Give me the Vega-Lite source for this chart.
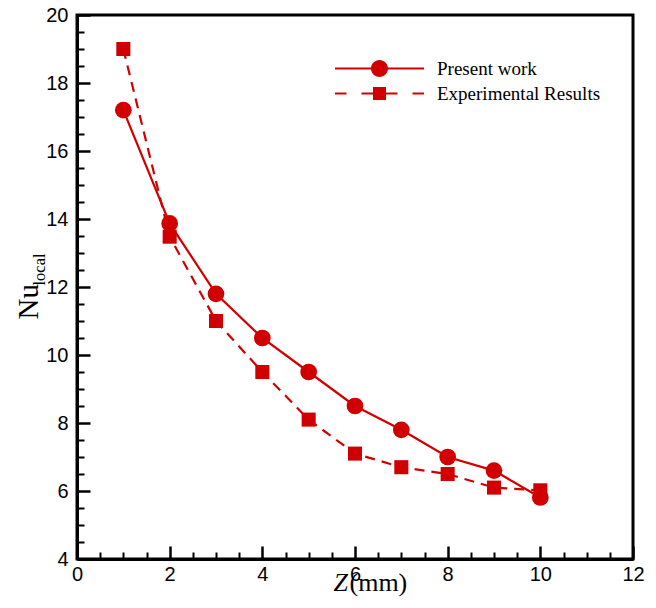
{
  "$schema": "https://vega.github.io/schema/vega-lite/v6.json",
  "width": 556,
  "height": 544,
  "autosize": {"type": "none"},
  "padding": {"left": 77, "top": 15, "right": 23, "bottom": 49},
  "background": "white",
  "config": {
    "view": {"stroke": "black", "strokeWidth": 3},
    "axis": {"grid": false, "labelFlush": false, "labelOverlap": false, "labelBound": false, "domainColor": "black", "tickColor": "black", "labelColor": "black", "titleColor": "black"}
  },
  "data": {
    "values": [
      {"z": 1, "nu": 17.2, "series": "Present work"},
      {"z": 2, "nu": 13.87, "series": "Present work"},
      {"z": 3, "nu": 11.8, "series": "Present work"},
      {"z": 4, "nu": 10.5, "series": "Present work"},
      {"z": 5, "nu": 9.5, "series": "Present work"},
      {"z": 6, "nu": 8.5, "series": "Present work"},
      {"z": 7, "nu": 7.8, "series": "Present work"},
      {"z": 8, "nu": 7.0, "series": "Present work"},
      {"z": 9, "nu": 6.6, "series": "Present work"},
      {"z": 10, "nu": 5.81, "series": "Present work"},
      {"z": 1, "nu": 19.0, "series": "Experimental Results"},
      {"z": 2, "nu": 13.48, "series": "Experimental Results"},
      {"z": 3, "nu": 11.0, "series": "Experimental Results"},
      {"z": 4, "nu": 9.5, "series": "Experimental Results"},
      {"z": 5, "nu": 8.1, "series": "Experimental Results"},
      {"z": 6, "nu": 7.1, "series": "Experimental Results"},
      {"z": 7, "nu": 6.7, "series": "Experimental Results"},
      {"z": 8, "nu": 6.5, "series": "Experimental Results"},
      {"z": 9, "nu": 6.1, "series": "Experimental Results"},
      {"z": 10, "nu": 6.02, "series": "Experimental Results"}
    ]
  },
  "resolve": {"axis": {"x": "independent", "y": "independent"}, "scale": {"shape": "independent"}},
  "layer": [
    {
      "transform": [{"filter": "datum.series === 'Present work'"}],
      "mark": {"type": "line", "color": "#d00000", "strokeWidth": 2.2},
      "encoding": {
        "x": {
          "field": "z", "type": "quantitative",
          "scale": {"domain": [0, 12], "nice": false, "zero": false},
          "axis": {
            "orient": "bottom", "values": [0, 2, 4, 6, 8, 10, 12], "format": "d",
            "domain": true, "domainWidth": 3,
            "tickSize": -13, "tickWidth": 2.5, "labelPadding": 18,
            "labelFont": "Liberation Sans", "labelFontSize": 20,
            "title": "Z", "titleFont": "Liberation Serif", "titleFontStyle": "italic", "titleFontWeight": "normal", "titleFontSize": 26,
            "titleX": 256, "titleY": 31, "titleAlign": "left", "titleBaseline": "alphabetic", "titleAngle": 0
          }
        },
        "y": {
          "field": "nu", "type": "quantitative",
          "scale": {"domain": [4, 20], "nice": false, "zero": false},
          "axis": {
            "orient": "left", "values": [4, 6, 8, 10, 12, 14, 16, 18, 20], "format": "d",
            "domain": true, "domainWidth": 3,
            "tickSize": -13, "tickWidth": 2.5, "labelPadding": 22,
            "labelFont": "Liberation Sans", "labelFontSize": 20,
            "title": "Nu", "titleFont": "Liberation Serif", "titleFontWeight": "normal", "titleFontSize": 29,
            "titleX": -40, "titleY": 304, "titleAngle": 270, "titleAlign": "left", "titleBaseline": "alphabetic"
          }
        }
      }
    },
    {
      "transform": [{"filter": "datum.series === 'Experimental Results'"}],
      "mark": {"type": "line", "color": "#d00000", "strokeWidth": 2.2, "strokeDash": [10, 7]},
      "encoding": {
        "x": {"field": "z", "type": "quantitative", "axis": null},
        "y": {"field": "nu", "type": "quantitative", "axis": null}
      }
    },
    {
      "mark": {"type": "point", "filled": true, "color": "#d00000", "opacity": 1, "size": 280},
      "encoding": {
        "x": {
          "field": "z", "type": "quantitative",
          "axis": {
            "orient": "bottom", "values": [0.5, 1, 1.5, 2.5, 3, 3.5, 4.5, 5, 5.5, 6.5, 7, 7.5, 8.5, 9, 9.5, 10.5, 11, 11.5],
            "labels": false, "domain": false, "tickSize": -7, "tickWidth": 2,
            "title": "(mm)", "titleFont": "Liberation Serif", "titleFontWeight": "normal", "titleFontSize": 26,
            "titleX": 272, "titleY": 31, "titleAlign": "left", "titleBaseline": "alphabetic", "titleAngle": 0
          }
        },
        "y": {
          "field": "nu", "type": "quantitative",
          "axis": {
            "orient": "left", "values": [4.5, 5, 5.5, 6.5, 7, 7.5, 8.5, 9, 9.5, 10.5, 11, 11.5, 12.5, 13, 13.5, 14.5, 15, 15.5, 16.5, 17, 17.5, 18.5, 19, 19.5],
            "labels": false, "domain": false, "tickSize": -7, "tickWidth": 2,
            "title": "local", "titleFont": "Liberation Serif", "titleFontWeight": "normal", "titleFontSize": 16.5,
            "titleX": -33, "titleY": 270, "titleAngle": 270, "titleAlign": "left", "titleBaseline": "alphabetic"
          }
        },
        "shape": {
          "field": "series", "type": "nominal",
          "scale": {"domain": ["Present work", "Experimental Results"], "range": ["circle", "M-0.84,-0.84L0.84,-0.84L0.84,0.84L-0.84,0.84Z"]},
          "legend": null
        }
      }
    },
    {
      "transform": [{"filter": "false"}],
      "mark": {"type": "point", "filled": true, "color": "#d00000", "opacity": 1, "size": 256},
      "encoding": {
        "x": {"field": "z", "type": "quantitative", "axis": null},
        "y": {"field": "nu", "type": "quantitative", "axis": null},
        "shape": {
          "field": "series", "type": "nominal",
          "scale": {
            "domain": ["Present work", "Experimental Results"],
            "range": [
              "M-5.5625,-0.14L5.5625,-0.14L5.5625,0.14L-5.5625,0.14ZM1.0625,0A1.0625,1.0625,0,1,1,-1.0625,0A1.0625,1.0625,0,1,1,1.0625,0Z",
              "M-5.5625,-0.14L-4.125,-0.14L-4.125,0.14L-5.5625,0.14ZM-2.25,-0.14L-0.75,-0.14L-0.75,0.14L-2.25,0.14ZM0.75,-0.14L2.25,-0.14L2.25,0.14L0.75,0.14ZM4.125,-0.14L5.5625,-0.14L5.5625,0.14L4.125,0.14ZM-0.8125,-0.8125L0.8125,-0.8125L0.8125,0.8125L-0.8125,0.8125Z"
            ]
          },
          "legend": {
            "orient": "none", "legendX": 293, "legendY": 44, "title": null,
            "padding": 0, "symbolSize": 256, "labelOffset": 48, "rowPadding": 4,
            "labelFont": "Liberation Serif", "labelFontSize": 19, "labelColor": "black", "labelLimit": 400
          }
        }
      }
    }
  ]
}
